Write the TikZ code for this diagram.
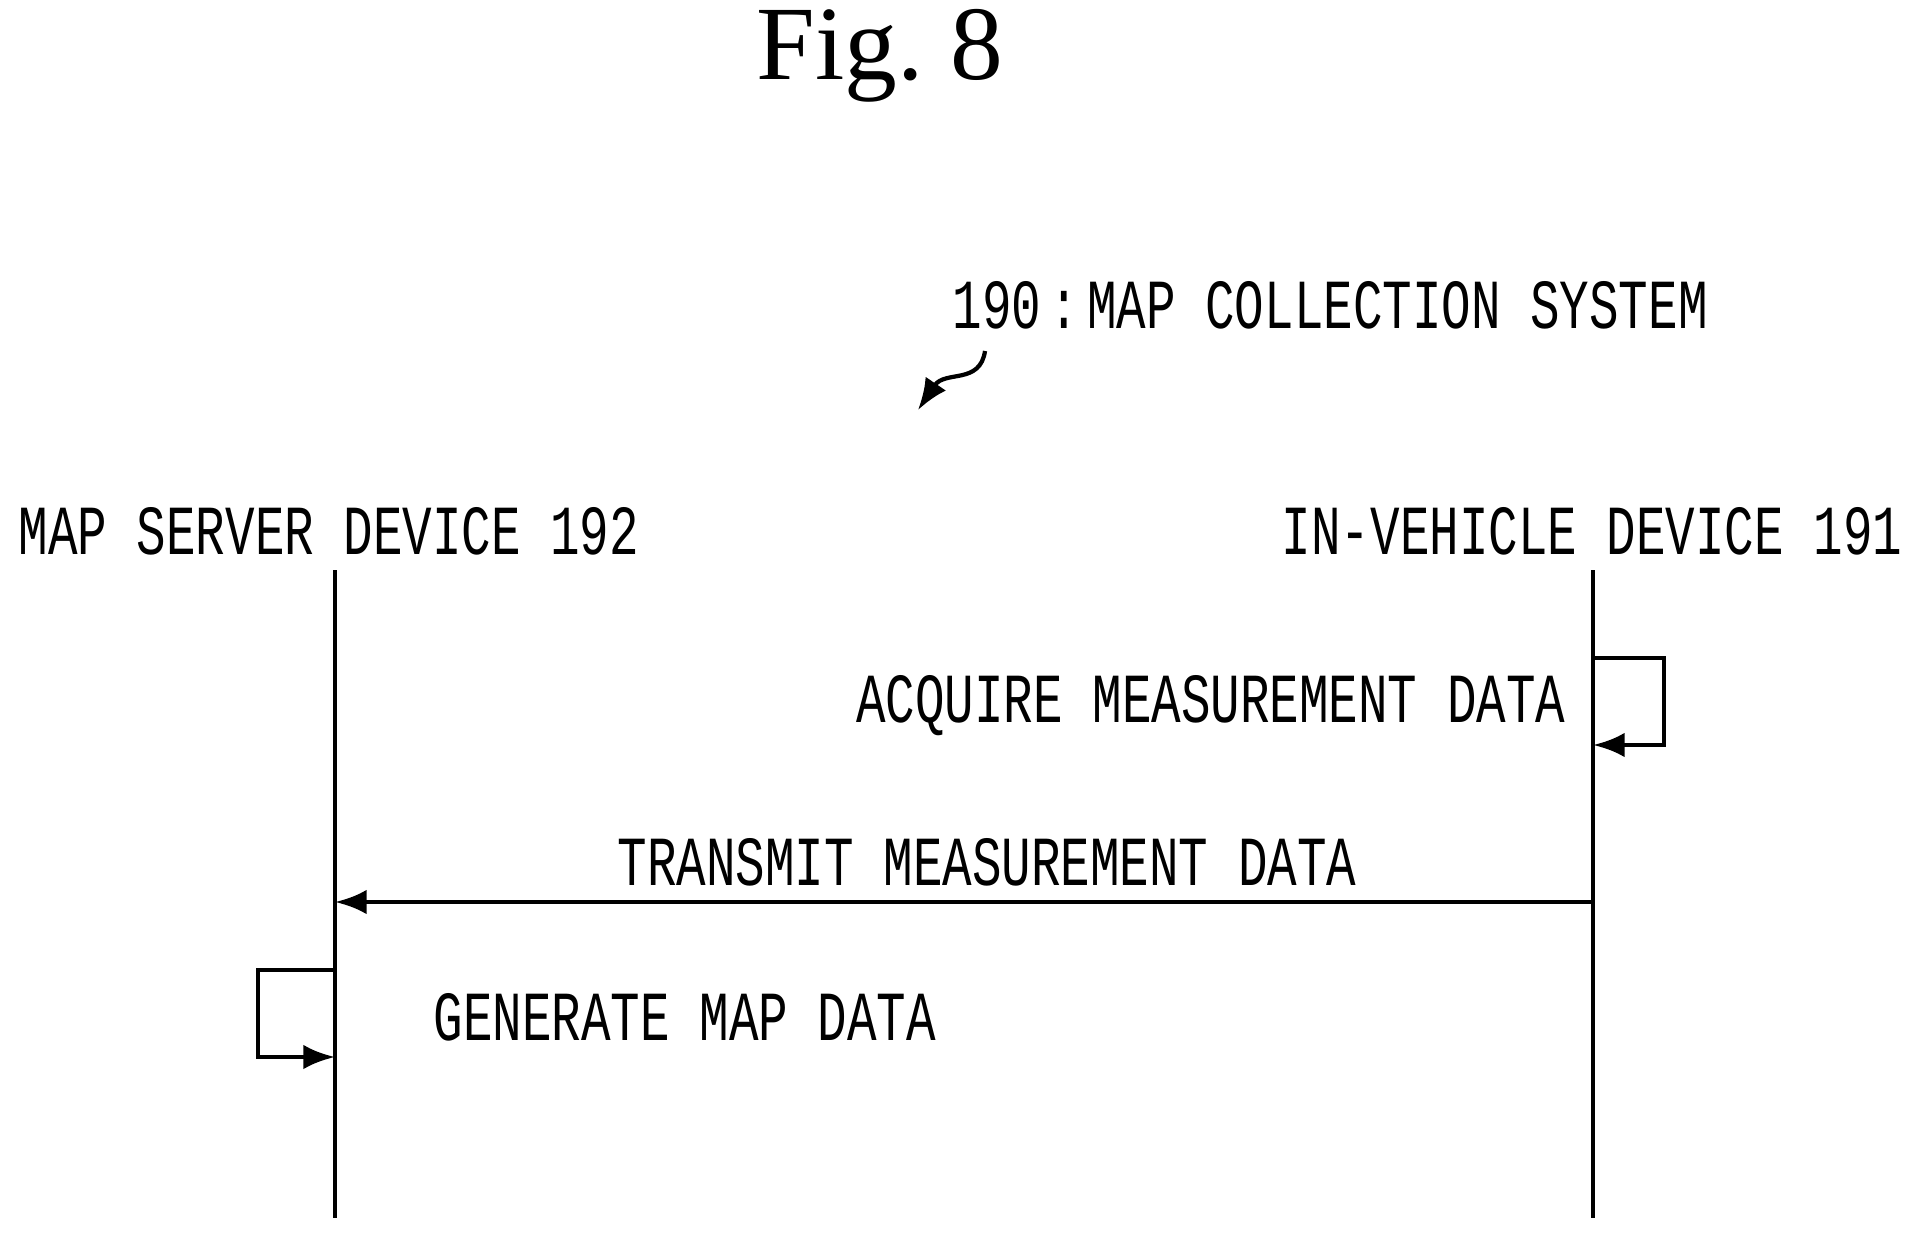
\documentclass[tikz,border=0pt]{standalone}
\usepackage{fontspec}
\setmainfont{Liberation Serif}
\newfontfamily\condfont{Liberation Mono}
\usetikzlibrary{arrows.meta,decorations.pathmorphing}
\newcommand{\cond}[1]{\scalebox{0.7}[1]{\condfont\fontsize{20}{22}\selectfont #1}}
\tikzset{lbl/.style={inner sep=0pt},
 line/.style={line width=1.4pt},
 arr/.style={line width=1.4pt,-{Latex[length=9pt,width=7pt]}}}
\begin{document}
\begin{tikzpicture}[x=0.01cm,y=-0.01cm]
\useasboundingbox (0,0) rectangle (1919,1234);
\node[lbl] (fig) at (880,56) {\fontsize{30}{34}\selectfont Fig.\ 8};
\node[lbl,anchor=west] (sys) at (952,305) {\cond{190\,:\,MAP COLLECTION SYSTEM}};
\coordinate (w1) at (985,351);
\coordinate (w2) at (918,410);
\draw[line width=1.2pt,-{Latex[length=9pt,width=7pt]}] (w1) .. controls (980,385) and (945,370) .. (w2);
\node[lbl,anchor=west] (srv) at (18,531) {\cond{MAP SERVER DEVICE 192}};
\node[lbl,anchor=east] (veh) at (1903,531) {\cond{IN-VEHICLE DEVICE 191}};
\coordinate (lt) at (335,570); \coordinate (lb) at (335,1218);
\coordinate (rt) at (1593,570); \coordinate (rb) at (1593,1218);
\draw[line] (lt) -- (lb);
\draw[line] (rt) -- (rb);
\coordinate (ra) at (1593,658); \coordinate (rz) at (1593,745);
\draw[arr] (ra) -- (1664,658) -- (1664,745) -- (rz);
\node[lbl,anchor=east] (acq) at (1566,706) {\cond{ACQUIRE MEASUREMENT DATA}};
\coordinate (ts) at (1593,902); \coordinate (te) at (335,902);
\draw[arr] (ts) -- (te);
\node[lbl] (tr) at (987,862) {\cond{TRANSMIT MEASUREMENT DATA}};
\coordinate (la) at (335,970); \coordinate (lz) at (335,1057);
\draw[arr] (la) -- (258,970) -- (258,1057) -- (lz);
\node[lbl,anchor=west] (gen) at (433,1017) {\cond{GENERATE MAP DATA}};
\end{tikzpicture}
\end{document}
